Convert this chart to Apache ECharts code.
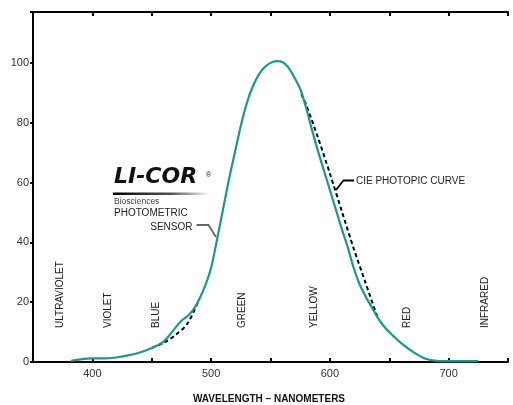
<!DOCTYPE html>
<html>
<head>
<meta charset="utf-8">
<script src="https://cdn.jsdelivr.net/npm/echarts@6/dist/echarts.min.js"></script>
<style>html,body{margin:0;padding:0;background:#fff;}#chart{width:513px;height:405px;}</style>
</head>
<body>
<div id="chart"></div>
<script>
// Photometric sensor response (teal curve)
var sensorNm  = [382, 390, 400, 410, 420, 430, 440, 450, 455, 460, 465, 470, 475, 480, 485, 490, 495, 500, 505, 510, 515, 520, 525, 530, 535, 540, 545, 550, 555, 560, 565, 570, 575, 580, 585, 590, 595, 600, 605, 610, 615, 620, 625, 630, 635, 640, 645, 650, 660, 670, 680, 690, 700, 725];
var sensorVal = [0.4, 0.9, 1.2, 1.2, 1.5, 2.2, 3.2, 4.7, 5.6, 6.8, 9.0, 11.5, 13.8, 15.3, 17.5, 21.0, 25.5, 31.5, 41.0, 51.0, 61.0, 70.0, 79.0, 86.5, 92.0, 96.0, 98.5, 100.0, 100.6, 100.3, 98.5, 95.2, 91.3, 85.0, 77.5, 70.5, 64.0, 57.5, 51.0, 44.5, 38.5, 31.5, 26.0, 22.0, 18.5, 15.0, 12.2, 10.0, 6.3, 3.4, 1.2, 0.4, 0.3, 0.3];
// CIE photopic curve (dashed) where it departs from the sensor curve
var cieLeftNm   = [450, 460, 470, 480, 490];
var cieLeftVal  = [4.7, 6.4, 9.0, 12.8, 21.0];
var cieRightNm  = [576, 580, 590, 600, 610, 620, 630, 640];
var cieRightVal = [89.5, 86.0, 75.0, 63.0, 50.5, 38.0, 26.5, 15.0];
// Axis ticks
var xTicks = [400, 500, 600, 700];
var yTicks = [0, 20, 40, 60, 80, 100];
// Spectral band labels
var bandNames = ['ULTRAVIOLET', 'VIOLET', 'BLUE', 'GREEN', 'YELLOW', 'RED', 'INFRARED'];
var bandNm    = [373, 413, 453.5, 526.5, 587, 665, 730.5];

function pairs(xs, ys) { return xs.map(function (x, i) { return [x, ys[i]]; }); }

var chart = echarts.init(document.getElementById('chart'), null, {renderer: 'canvas'});
var TEAL = '#17998e';
var FONT = '"Liberation Sans", Arial, sans-serif';

var grid = {left: 33, right: 5, top: 12, bottom: 43};
var option = {
  animation: false,
  backgroundColor: '#fff',
  grid: grid,
  xAxis: [{
    type: 'value', min: 350, max: 750, interval: 50, position: 'bottom',
    axisLine: {lineStyle: {color: '#000', width: 2}},
    axisTick: {inside: true, length: 4, lineStyle: {color: '#000', width: 2}},
    axisLabel: {margin: 6, color: '#333', fontSize: 11, fontFamily: FONT,
      formatter: function (v) { return xTicks.indexOf(v) >= 0 ? String(v) : ''; }},
    splitLine: {show: false}
  }, {
    type: 'value', min: 350, max: 750, interval: 50, position: 'top',
    axisLine: {show: true, lineStyle: {color: '#000', width: 2}},
    axisTick: {show: true, inside: true, length: 4, lineStyle: {color: '#000', width: 2}},
    axisLabel: {show: false},
    splitLine: {show: false}
  }],
  yAxis: {
    type: 'value', min: 0, max: 117, interval: 20,
    axisLine: {show: true, lineStyle: {color: '#000', width: 2}},
    axisTick: {show: true, length: 3, lineStyle: {color: '#000', width: 2}},
    axisLabel: {margin: 4, color: '#333', fontSize: 11, fontFamily: FONT,
      formatter: function (v) { return yTicks.indexOf(v) >= 0 ? String(v) : ''; }},
    splitLine: {show: false}
  },
  series: [{
    type: 'line', data: pairs(sensorNm, sensorVal), showSymbol: false, smooth: 0.3,
    lineStyle: {color: TEAL, width: 2.2}, z: 3
  }, {
    type: 'line', data: pairs(cieLeftNm, cieLeftVal), showSymbol: false, smooth: 0.3,
    lineStyle: {color: '#000', width: 2, type: [4, 3]}, z: 2
  }, {
    type: 'line', data: pairs(cieRightNm, cieRightVal), showSymbol: false, smooth: 0.3,
    lineStyle: {color: '#000', width: 2, type: [4, 3]}, z: 2
  }]
};
chart.setOption(option);

function px(nm) { return chart.convertToPixel({xAxisIndex: 0}, nm); }

var g = [];
bandNames.forEach(function (name, i) {
  g.push({type: 'text', x: px(bandNm[i]), y: 328, rotation: Math.PI / 2,
    style: {text: name, fill: '#222', font: '10px ' + FONT, textAlign: 'left', textVerticalAlign: 'middle'}});
});
// LI-COR logo
g.push({type: 'text', x: 114, y: 188, style: {text: 'LI-COR', fill: '#111',
  font: 'italic bold 22px "DejaVu Sans", sans-serif', textAlign: 'left', textVerticalAlign: 'bottom'}});
g.push({type: 'text', x: 206, y: 175, style: {text: '\u00AE', fill: '#111', font: '7px ' + FONT,
  textAlign: 'left', textVerticalAlign: 'middle'}});
g.push({type: 'rect', shape: {x: 113, y: 192.5, width: 97, height: 2.5},
  style: {fill: new echarts.graphic.LinearGradient(0, 0, 1, 0, [
    {offset: 0, color: '#000'}, {offset: 0.6, color: '#555'}, {offset: 1, color: '#fff'}])}});
g.push({type: 'text', x: 114, y: 201.5, style: {text: 'Biosciences', fill: '#444', font: '8.5px ' + FONT,
  textAlign: 'left', textVerticalAlign: 'middle'}});
g.push({type: 'text', x: 114, y: 213.5, style: {text: 'PHOTOMETRIC', fill: '#222', font: '10px ' + FONT,
  textAlign: 'left', textVerticalAlign: 'middle'}});
g.push({type: 'text', x: 192.5, y: 227.5, style: {text: 'SENSOR', fill: '#222', font: '10px ' + FONT,
  textAlign: 'right', textVerticalAlign: 'middle'}});
g.push({type: 'polyline', shape: {points: [[196.5, 225], [208.5, 225], [216, 237]]},
  style: {stroke: '#666', lineWidth: 1.8, fill: null}});
// CIE label
g.push({type: 'text', x: 356, y: 181, style: {text: 'CIE PHOTOPIC CURVE', fill: '#222', font: '10px ' + FONT,
  textAlign: 'left', textVerticalAlign: 'middle'}});
g.push({type: 'polyline', shape: {points: [[354, 180.5], [343.5, 180.5], [336, 190]]},
  style: {stroke: '#000', lineWidth: 1.8, fill: null}});
// axis title
g.push({type: 'text', x: 269, y: 399, style: {text: 'WAVELENGTH \u2013 NANOMETERS', fill: '#111',
  font: 'bold 10px ' + FONT, textAlign: 'center', textVerticalAlign: 'middle'}});

chart.setOption({graphic: {elements: g}});
</script>
</body>
</html>
